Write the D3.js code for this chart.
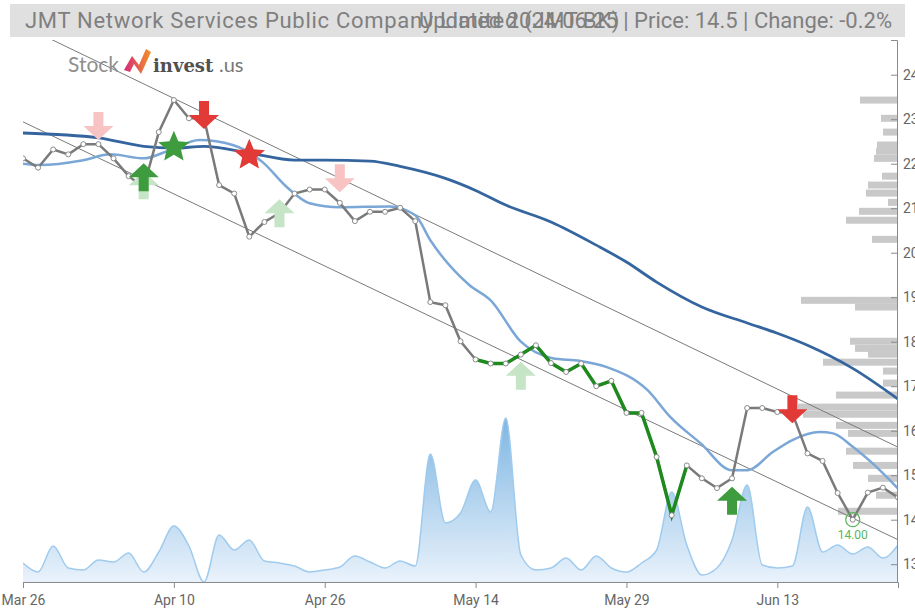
<!DOCTYPE html>
<html lang="en">
<head>
<meta charset="utf-8">
<title>JMT</title>
<style>
body{margin:0;background:#fff;}
svg{display:block;font-family:Roboto,"Liberation Sans",sans-serif;}
.axis path,.axis line{fill:none;stroke:#8a8a8a;}
.axis text{fill:#666;font-size:14px;font-family:Roboto,sans-serif;}
</style>
</head>
<body>
<script src="https://cdn.jsdelivr.net/npm/d3@7"></script>
<script>

var w = 915; //svg size
var h = 610;
var px0 = 23, px1 = 898; //plot x range
var py0 = 40, py1 = 582; //plot y range

// trading days
var dates = ["2024-03-26","2024-03-27","2024-03-28","2024-03-29","2024-04-01","2024-04-02","2024-04-03","2024-04-04","2024-04-05","2024-04-09",
  "2024-04-10","2024-04-11","2024-04-12","2024-04-17","2024-04-18","2024-04-19","2024-04-22","2024-04-23","2024-04-24","2024-04-25",
  "2024-04-26","2024-04-29","2024-04-30","2024-05-02","2024-05-03","2024-05-07","2024-05-08","2024-05-09","2024-05-10","2024-05-13",
  "2024-05-14","2024-05-15","2024-05-16","2024-05-17","2024-05-20","2024-05-21","2024-05-23","2024-05-24","2024-05-27","2024-05-28",
  "2024-05-29","2024-05-30","2024-05-31","2024-06-04","2024-06-05","2024-06-06","2024-06-07","2024-06-10","2024-06-11","2024-06-12",
  "2024-06-13","2024-06-14","2024-06-17","2024-06-18","2024-06-19","2024-06-20","2024-06-21","2024-06-24","2024-06-25"];

var closePrice = [22.12,21.91,22.32,22.21,22.44,22.44,22.12,21.72,21.47,22.71,
  23.43,23.02,23.02,21.52,21.33,20.36,20.69,20.89,21.33,21.42,
  21.42,21.12,20.71,20.92,20.92,21.01,20.71,18.89,18.82,18.01,
  17.60,17.51,17.51,17.71,17.92,17.52,17.32,17.51,17.00,17.12,
  16.40,16.40,15.41,14.10,15.22,14.93,14.71,14.93,16.51,16.51,
  16.42,16.39,15.49,15.32,14.60,14.00,14.61,14.72,14.50];

// volume (thousand shares)
var volume = [19,10,36,14,12,22,20,29,10,30,
  56,36,0,47,32,42,21,19,16,10,
  12,15,26,20,14,21,16,128,59,69,
  102,70,164,27,12,14,24,12,26,14,
  10,19,32,90,37,7,14,42,97,17,
  14,16,75,30,37,28,35,24,37];

// long moving average (read at a few days)
var maLongIdx = [0,5,8,10,12,15,18,20,23,25,28,30,32,35,38,40,42,45,48,50,52,55,58];
var maLongVal = [22.69,22.58,22.39,22.35,22.39,22.24,22.08,22.08,22.06,21.94,21.67,21.40,21.07,20.69,20.17,19.79,19.34,18.78,18.42,18.19,17.92,17.40,16.71];

// short moving average
var maShortIdx = [0,1.1,4,5.8,8,9.7,11.7,13.9,15.9,17.5,19,21,24.3,26,27,29.6,31,33,35.1,36.9,38.7,41.4,42.9,44.9,47,48,49.7,51,52.8,53.7,55,56.3,58];
var maShortVal = [22.00,21.97,22.08,22.21,22.12,22.30,22.53,22.42,22.03,21.47,21.11,21.02,21.04,20.84,20.28,19.27,18.93,18.00,17.63,17.57,17.43,16.91,16.31,15.72,15.11,15.11,15.52,15.79,15.97,15.94,15.64,15.27,14.70];

// trend channel
var channelIdx = [0,58];
var channelUpper = [25.10,15.63];
var channelLower = [22.94,13.55];

// green trend part of the price line
var trendFrom = 30, trendTo = 44;

// volume profile
var profPrice = [23.43,23.02,22.71,22.42,22.28,22.12,21.72,21.52,21.34,21.13,20.93,20.73,20.30,18.93,18.78,
  18.01,17.85,17.72,17.54,17.34,17.07,16.80,16.53,16.37,16.12,15.94,15.54,15.22,14.93,14.55,14.19];
var profVol = [38,17,15,21,22,24,16,30,32,10,39,52,26,97,43,
  48,43,30,75,15,15,62,100,95,62,50,52,45,30,22,60];

// signals
var sigIdx = [5,8,17,21,33,8,10,12,15,47,51];
var sigPrice = [22.53,21.83,21.20,21.36,17.55,22.01,22.37,22.78,22.19,14.74,16.17];
var sigType = ["sellFaint","buyFaint","buyFaint","sellFaint","buyFaint","buy","starGreen","sell","starRed","buy","sell"];

var lowIdx = 55, lowPrice = 14.00;

var yTicks = [13,14,15,16,17,18,19,20,21,22,23,24];
var xTickIdx = [0,10,20,30,40,50];

var titleLeft = "JMT Network Services Public Company Limited (JMT.BK)";
var titleRight = "Updated 2024-06-25 | Price: 14.5 | Change: -0.2%";

var parseD = d3.timeParse("%Y-%m-%d");
var fmtD = d3.timeFormat("%b %d");

var xScale = d3.scaleLinear().domain([0, dates.length - 1]).range([px0, px1]);
var yScale = d3.scaleLinear().domain([12.6, 24.78]).range([py1, py0]);
var vScale = d3.scaleLinear().domain([0, 542]).range([py1, py0]);
var pScale = d3.scaleLinear().domain([0, 100]).range([0, 100]);

var svg = d3.select("body").append("svg").attr("width", w).attr("height", h);
var defs = svg.append("defs");

defs.append("clipPath").attr("id", "plotclip").append("rect")
  .attr("x", px0).attr("y", py0).attr("width", px1 - px0).attr("height", py1 - py0);

var vg = defs.append("linearGradient").attr("id", "volgrad")
  .attr("gradientUnits", "userSpaceOnUse").attr("x1", 0).attr("x2", 0).attr("y1", 415).attr("y2", py1);
vg.append("stop").attr("offset", "0%").attr("stop-color", "#7db5e2");
vg.append("stop").attr("offset", "100%").attr("stop-color", "#e9f2fb");

var lg = defs.append("linearGradient").attr("id", "logograd").attr("x1", 0).attr("x2", 1).attr("y1", 0).attr("y2", 0);
lg.append("stop").attr("offset", "0%").attr("stop-color", "#d42a7c");
lg.append("stop").attr("offset", "100%").attr("stop-color", "#f39325");

// title bar
svg.append("rect").attr("x", 10).attr("y", 4).attr("width", 895).attr("height", 33).attr("fill", "#e0e0e0");
svg.append("text").attr("x", 25).attr("y", 28).attr("font-size", "22px").attr("letter-spacing", "0.7px")
  .attr("fill", "#7f7f7f").text(titleLeft);
svg.append("text").attr("x", 892).attr("y", 28).attr("font-size", "22px").attr("fill", "#7f7f7f")
  .attr("text-anchor", "end").text(titleRight);

var plot = svg.append("g").attr("clip-path", "url(#plotclip)");

// volume area
var volArea = d3.area().curve(d3.curveMonotoneX)
  .x(function(d, i){ return xScale(i); })
  .y0(py1)
  .y1(function(d){ return vScale(d); });
plot.append("path").datum(volume).attr("d", volArea).attr("fill", "url(#volgrad)");
plot.append("path").datum(volume).attr("d", volArea.lineY1())
  .attr("fill", "none").attr("stroke", "#9fcbee").attr("stroke-width", 1.5);

// volume profile
plot.selectAll("rect.prof").data(profPrice).enter().append("rect")
  .attr("class", "prof")
  .attr("x", function(d, i){ return px1 - pScale(profVol[i]); })
  .attr("y", function(d){ return yScale(d) - 3.5; })
  .attr("width", function(d, i){ return pScale(profVol[i]); })
  .attr("height", 7)
  .attr("fill", "#c9c9c9");

// logo
var logo = svg.append("g");
logo.append("text").attr("x", 68).attr("y", 72).attr("font-family", "Lato,sans-serif").attr("font-size", "21px")
  .attr("fill", "#8f8f8f").text("Stock");
logo.append("path").attr("d", "M124,70 L132,56 L139,65 L146,49 L151,52 L141,74 L134,64 L130,72 Z").attr("fill", "url(#logograd)");
logo.append("text").attr("x", 153).attr("y", 72).attr("font-family", "'DejaVu Serif',serif").attr("font-weight", "bold")
  .attr("font-size", "18px").attr("fill", "#505050").text("invest");
logo.append("text").attr("x", 219).attr("y", 72).attr("font-family", "Lato,sans-serif").attr("font-size", "20px")
  .attr("fill", "#777").text(".us");

// channel lines
var chLine = d3.line().x(function(d, i){ return xScale(channelIdx[i]); }).y(function(d){ return yScale(d); });
plot.append("path").datum(channelUpper).attr("d", chLine).attr("fill", "none").attr("stroke", "#7a7a7a").attr("stroke-width", 1);
plot.append("path").datum(channelLower).attr("d", chLine).attr("fill", "none").attr("stroke", "#7a7a7a").attr("stroke-width", 1);

// moving averages
var maLineL = d3.line().curve(d3.curveMonotoneX)
  .x(function(d, i){ return xScale(maLongIdx[i]); }).y(function(d){ return yScale(d); });
var maLineS = d3.line().curve(d3.curveMonotoneX)
  .x(function(d, i){ return xScale(maShortIdx[i]); }).y(function(d){ return yScale(d); });
plot.append("path").datum(maShortVal).attr("d", maLineS).attr("fill", "none").attr("stroke", "#7ba7d7").attr("stroke-width", 2.5);
plot.append("path").datum(maLongVal).attr("d", maLineL).attr("fill", "none").attr("stroke", "#35659f").attr("stroke-width", 2.8);

// price line
var priceLine = d3.line().x(function(d, i){ return xScale(i); }).y(function(d){ return yScale(d); });
plot.append("path").datum(closePrice).attr("d", priceLine).attr("fill", "none").attr("stroke", "#7a7a7a").attr("stroke-width", 2.5);
var trendLine = d3.line().x(function(d, i){ return xScale(i + trendFrom); }).y(function(d){ return yScale(d); });
plot.append("path").datum(closePrice.slice(trendFrom, trendTo + 1)).attr("d", trendLine)
  .attr("fill", "none").attr("stroke", "#1e8a1e").attr("stroke-width", 3.5);
plot.selectAll("circle.pt").data(closePrice).enter().append("circle")
  .attr("class", "pt")
  .attr("cx", function(d, i){ return xScale(i); })
  .attr("cy", function(d){ return yScale(d); })
  .attr("r", 2.5)
  .attr("fill", "#fff").attr("stroke", "#8a8a8a").attr("stroke-width", 1);

// signal markers
var upArrow = "M0,0 L15,14 L5,14 L5,28 L-5,28 L-5,14 L-15,14 Z";
var downArrow = "M0,0 L15,-14 L5,-14 L5,-28 L-5,-28 L-5,-14 L-15,-14 Z";
function starPath(R, r){
  var s = "";
  for (var k = 0; k < 10; k++) {
    var a = -Math.PI / 2 + k * Math.PI / 5;
    var rr = k % 2 ? r : R;
    s += (k ? "L" : "M") + (rr * Math.cos(a)).toFixed(2) + "," + (rr * Math.sin(a)).toFixed(2);
  }
  return s + "Z";
}
var sigStyle = {
  buy: {d: upArrow, c: "#3e9c3e"},
  buyFaint: {d: upArrow, c: "#c6e4c6"},
  sell: {d: downArrow, c: "#e23a36"},
  sellFaint: {d: downArrow, c: "#f7c3c3"},
  starGreen: {d: starPath(16.5, 7.5), c: "#3e9c3e"},
  starRed: {d: starPath(16.5, 7.5), c: "#e23a36"}
};
svg.append("g").selectAll("path").data(sigIdx).enter().append("path")
  .attr("transform", function(d, i){ return "translate(" + xScale(d) + "," + yScale(sigPrice[i]) + ")"; })
  .attr("d", function(d, i){ return sigStyle[sigType[i]].d; })
  .attr("fill", function(d, i){ return sigStyle[sigType[i]].c; });

// low marker
svg.append("circle").attr("cx", xScale(lowIdx)).attr("cy", yScale(lowPrice)).attr("r", 7)
  .attr("fill", "none").attr("stroke", "#5bb55b").attr("stroke-width", 1.2);
svg.append("text").attr("x", xScale(lowIdx)).attr("y", yScale(lowPrice) + 19)
  .attr("text-anchor", "middle").attr("font-size", "12px").attr("fill", "#5bb55b").text(lowPrice.toFixed(2));

// axes
var xAxis = d3.axisBottom(xScale).tickValues(xTickIdx).tickSizeOuter(6).tickPadding(7)
  .tickFormat(function(i){ return fmtD(parseD(dates[i])); });
svg.append("g").attr("class", "axis").attr("transform", "translate(0," + py1 + ")").call(xAxis);

var yAxis = d3.axisRight(yScale).tickValues(yTicks).tickSizeInner(-6).tickSizeOuter(-6).tickPadding(6);
svg.append("g").attr("class", "axis").attr("transform", "translate(" + 897 + ",0)").call(yAxis);

</script>
</body>
</html>
